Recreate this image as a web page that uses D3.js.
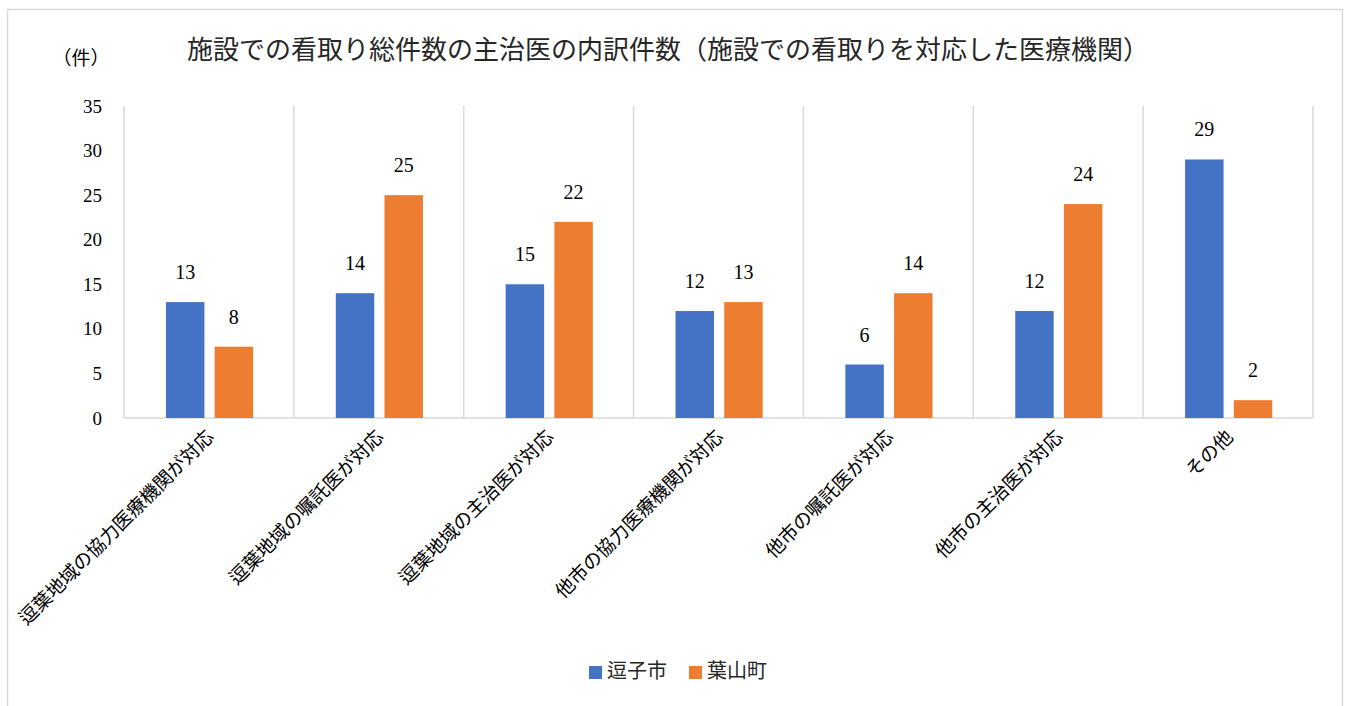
<!DOCTYPE html>
<html>
<head>
<meta charset="utf-8">
<script src="https://cdn.jsdelivr.net/npm/d3@7"></script>
<style>
  body { margin: 0; background: #fff; }
  svg text { font-family: "Times New Roman", "Noto Sans CJK JP", serif; fill: #000; }
  .grid line { stroke: #d9d9d9; stroke-width: 1.5; }
</style>
</head>
<body>
<div id="viz"></div>
<script>
// chart data
const categories = ["逗葉地域の協力医療機関が対応", "逗葉地域の嘱託医が対応", "逗葉地域の主治医が対応",
    "他市の協力医療機関が対応", "他市の嘱託医が対応", "他市の主治医が対応", "その他"];
const seriesNames = ["逗子市", "葉山町"];
const zushiValues = [13, 14, 15, 12, 6, 12, 29];
const hayamaValues = [8, 25, 22, 13, 14, 24, 2];
const yTicks = [0, 5, 10, 15, 20, 25, 30, 35];
const colors = ["#4472C4", "#ED7D31"];

const W = 1346, H = 706;
const margin = {top: 106, right: 33, bottom: 288, left: 124};
const width = W - margin.left - margin.right,
    height = H - margin.top - margin.bottom;

const svg = d3.select("#viz").append("svg")
    .attr("width", W)
    .attr("height", H);

// outer border
svg.append("rect")
    .attr("x", 7.5).attr("y", 9.5)
    .attr("width", 1335).attr("height", 720)
    .attr("fill", "none")
    .attr("stroke", "#d9d9d9")
    .attr("stroke-width", 1.5);

const g = svg.append("g")
    .attr("transform", `translate(${margin.left},${margin.top})`);

const x0 = d3.scaleBand().domain(categories).range([0, width]).padding(0);
const x1 = d3.scaleBand().domain(seriesNames)
    .range([x0.bandwidth() * 0.247, x0.bandwidth() * 0.76])
    .paddingInner(0.21);
const y = d3.scaleLinear().domain([0, 35]).range([height, 0]);

// vertical gridlines at category boundaries
const bounds = categories.map(c => x0(c)).concat([width]);
g.append("g").attr("class", "grid")
    .selectAll("line").data(bounds).join("line")
    .attr("x1", d => d).attr("x2", d => d)
    .attr("y1", 0).attr("y2", height);

// x axis line
g.append("line")
    .attr("x1", 0).attr("x2", width)
    .attr("y1", height).attr("y2", height)
    .attr("stroke", "#d9d9d9").attr("stroke-width", 1.5);

// y axis labels
const yAxis = g.append("g")
    .call(d3.axisLeft(y).tickValues(yTicks).tickSize(0).tickPadding(22));
yAxis.select(".domain").remove();
yAxis.attr("font-family", null);
yAxis.selectAll("text").style("font-size", "19px").attr("fill", "#000");

// bars
const rows = categories.map((c, i) => ({cat: c, vals: [zushiValues[i], hayamaValues[i]]}));
const groups = g.selectAll("g.cat").data(rows).join("g")
    .attr("class", "cat")
    .attr("transform", d => `translate(${x0(d.cat)},0)`);

groups.selectAll("rect")
    .data(d => d.vals.map((v, k) => ({name: seriesNames[k], value: v, k: k})))
    .join("rect")
    .attr("x", d => x1(d.name))
    .attr("y", d => y(d.value))
    .attr("width", x1.bandwidth())
    .attr("height", d => height - y(d.value))
    .attr("fill", d => colors[d.k]);

// value labels
groups.selectAll("text.val")
    .data(d => d.vals.map((v, k) => ({name: seriesNames[k], value: v})))
    .join("text")
    .attr("class", "val")
    .attr("x", d => x1(d.name) + x1.bandwidth() / 2)
    .attr("y", d => y(d.value) - 23)
    .attr("text-anchor", "middle")
    .style("font-size", "20px")
    .text(d => d.value);

// rotated category labels
g.append("g").selectAll("text.cat-label").data(categories).join("text")
    .attr("class", "cat-label")
    .attr("transform", d => `translate(${x0(d) + x0.bandwidth() / 2 + 6},${height + 20}) rotate(-45)`)
    .attr("text-anchor", "end")
    .style("font-size", "19px")
    .text(d => d);

// title
svg.append("text")
    .attr("x", 668)
    .attr("y", 59)
    .attr("text-anchor", "middle")
    .style("font-size", "26px")
    .style("fill", "#262626")
    .text("施設での看取り総件数の主治医の内訳件数（施設での看取りを対応した医療機関）");

// unit label
svg.append("text")
    .attr("x", 81).attr("y", 65)
    .attr("text-anchor", "middle")
    .style("font-size", "19px")
    .text("（件）");

// legend
const legend = svg.append("g").attr("transform", "translate(589,666)");
const legendX = [0, 100];
seriesNames.forEach((name, i) => {
    const lg = legend.append("g").attr("transform", `translate(${legendX[i]},0)`);
    lg.append("rect").attr("width", 13).attr("height", 13).attr("fill", colors[i]);
    lg.append("text").attr("x", 18).attr("y", 12)
        .style("font-size", "20px")
        .style("fill", "#262626")
        .text(name);
});
</script>
</body>
</html>
